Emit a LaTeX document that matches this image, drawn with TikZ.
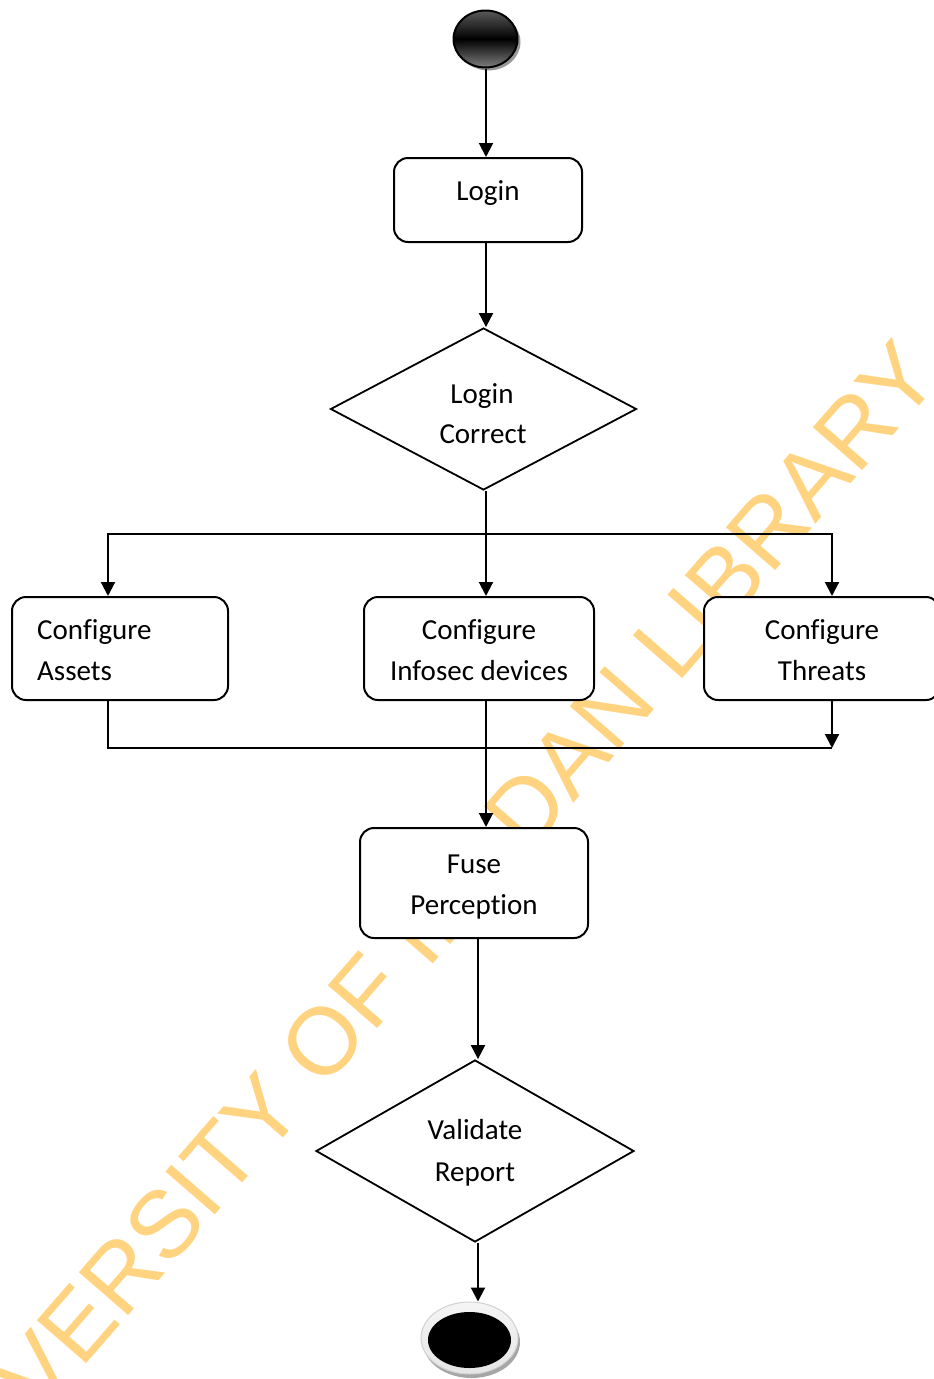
\documentclass[tikz,border=0pt]{standalone}
\usepackage{fontspec}
\setmainfont{Carlito}[Ligatures=NoCommon]
\newfontfamily\wmfont{Liberation Sans}
\usetikzlibrary{arrows.meta,shapes.geometric,shadows}

\definecolor{wmorange}{RGB}{255,211,127}

\tikzset{
  flow/.style={line width=2pt, draw=black},
  arr/.style={flow, -{Triangle[length=14pt,width=14pt]}},
  actbox/.style={draw=black, line width=2pt, fill=white, rounded corners=14pt,
                 rectangle, inner sep=0pt},
  choice/.style={draw=black, line width=1.8pt, fill=white, diamond, inner sep=0pt},
  lbl/.style={anchor=base, inner sep=0pt, font=\fontsize{29}{41}\selectfont},
}

\begin{document}
\begin{tikzpicture}[x=1pt, y=-1pt]
\useasboundingbox (0,0) rectangle (934,1379);

% faint library watermark behind the chart
\node[inner sep=0pt, rotate=49, text=wmorange,
      font=\wmfont\fontsize{95}{95}\selectfont] (wm) at (413,938)
      {UNIVERSITY OF IBADAN LIBRARY};

% columns and junctions used by the connectors
\coordinate (spine)  at (486,0);
\coordinate (spine2) at (478,0);
\coordinate (colA)   at (108,0);
\coordinate (colC)   at (832,0);
\coordinate (fork)   at (486,534);
\coordinate (join)   at (832,748);

% initial state: glossy black disc
\node[ellipse, draw=black, line width=2pt, minimum width=64pt, minimum height=57pt,
      top color=black!65, bottom color=black!50, middle color=black,
      drop shadow={shadow xshift=3pt, shadow yshift=-3pt, fill=black!40, opacity=1}]
      (start) at (485.5,39) {};

% activities
\node[actbox, minimum width=188pt, minimum height=84pt] (login) at (488,200) {};
\node[lbl] (loginT) at (488,200.5) {Login};

\node[choice, minimum width=306pt, minimum height=162pt] (dec1) at (483.5,409) {};
\node[lbl] (dec1a) at (482,403) {Login};
\node[lbl] (dec1b) at (483,443) {Correct};

\node[actbox, minimum width=216pt, minimum height=103pt] (assets) at (120,648.5) {};
\node[lbl, anchor=base west] (assetsA) at (37,639) {Configure};
\node[lbl, anchor=base west] (assetsB) at (37,680) {Assets};

\node[actbox, minimum width=230pt, minimum height=103pt] (infosec) at (479,648.5) {};
\node[lbl] (infosecA) at (479,639) {Configure};
\node[lbl] (infosecB) at (479,680) {Infosec devices};

\node[actbox, minimum width=236pt, minimum height=103pt] (threats) at (822,648.5) {};
\node[lbl] (threatsA) at (822,639) {Configure};
\node[lbl] (threatsB) at (822,680) {Threats};

\node[actbox, minimum width=228pt, minimum height=110pt] (fuse) at (474,883) {};
\node[lbl] (fuseA) at (474,873) {Fuse};
\node[lbl] (fuseB) at (474,914) {Perception};

\node[choice, minimum width=318pt, minimum height=182pt] (dec2) at (475,1151) {};
\node[lbl] (dec2a) at (475,1139) {Validate};
\node[lbl] (dec2b) at (475,1181) {Report};

% final state: black disc on a pale rim
\node[ellipse, draw=black!18, line width=1pt, minimum width=97pt, minimum height=72pt,
      top color=black!4, bottom color=black!10,
      drop shadow={shadow xshift=2pt, shadow yshift=-4pt, fill=black!35, opacity=1}]
      (end) at (469.5,1338) {};
\node[ellipse, fill=black, minimum width=83pt, minimum height=56pt, inner sep=0pt]
      (endcore) at (469.5,1340) {};

% control flow
\draw[arr] (start.south -| spine) -- (login.north -| spine);
\draw[arr] (login.south -| spine) -- (dec1.north -| spine);
\draw[arr] (dec1.south -| spine) -- (infosec.north -| spine);
\draw[arr] (fork) -| (assets.north -| colA);
\draw[arr] (fork) -| (threats.north -| colC);
\draw[flow] (assets.south -| colA) |- (join);
\draw[arr] (threats.south -| colC) -- (join);
\draw[arr] (infosec.south -| spine) -- (fuse.north -| spine);
\draw[arr] (fuse.south -| spine2) -- (dec2.north -| spine2);
\draw[arr] (dec2.south -| spine2) -- (end.north -| spine2);
\end{tikzpicture}
\end{document}
